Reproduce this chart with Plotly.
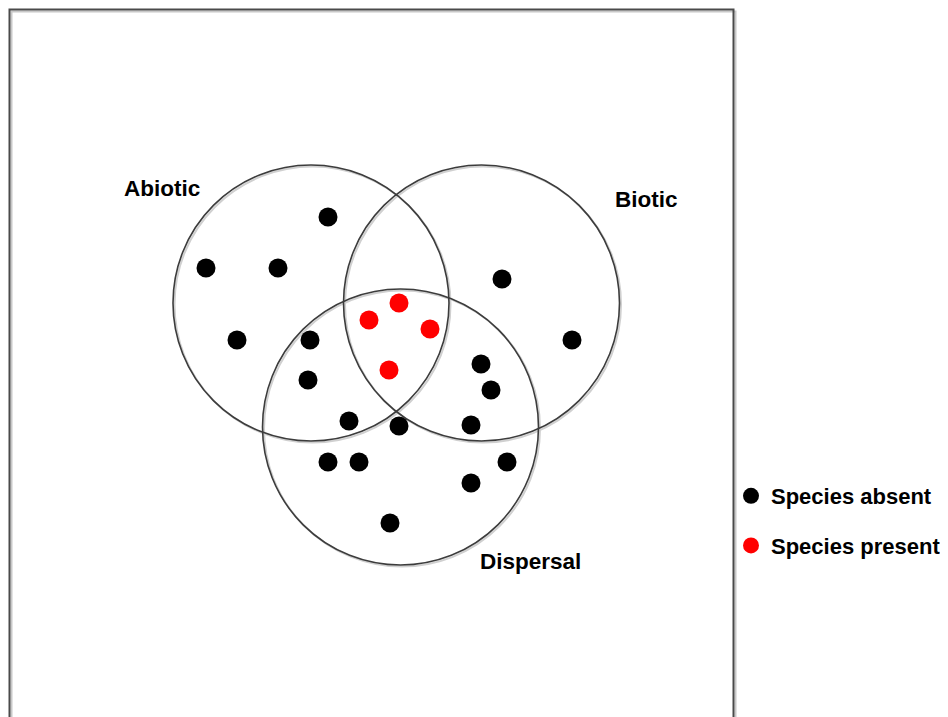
import plotly.graph_objects as go

# Venn sets (centre x, centre y, radius) in diagram units
set_names = ["Abiotic", "Biotic", "Dispersal"]
set_cx = [311, 481.5, 400.5]
set_cy = [303, 303, 427]
set_r = [138, 138, 138]
label_x = [161.5, 646.5, 530]
label_y = [188.5, 199, 561]

# species points
absent_x = [328, 206, 278, 237, 310, 308, 349, 399, 328, 359, 502, 572, 481, 491, 471, 507, 471, 390]
absent_y = [217, 268, 268, 340, 340, 380, 421, 426, 462, 462, 279, 340, 364, 390, 425, 462, 483, 523]
present_x = [399, 369, 430, 389]
present_y = [303, 320, 329, 370]

FONT = "Arial, Liberation Sans, sans-serif"
OFF = 8  # page body margin

fig = go.Figure()
fig.add_trace(go.Scatter(x=absent_x, y=absent_y, mode="markers", name="Species absent",
                         legendgroup="a",
                         marker=dict(color="black", size=19, line=dict(width=0))))
fig.add_trace(go.Scatter(x=present_x, y=present_y, mode="markers", name="Species present",
                         legendgroup="p",
                         marker=dict(color="#ff0000", size=19, line=dict(width=0))))

shapes = []
# outer frame with light shadow
shapes.append(dict(type="rect", xref="x", yref="y", x0=11.5, y0=11.5, x1=735.5, y1=760,
                   line=dict(color="#c8c8c8", width=2), layer="below"))
shapes.append(dict(type="rect", xref="x", yref="y", x0=9.5, y0=9.5, x1=733.5, y1=760,
                   line=dict(color="#4a4a4a", width=2), layer="below"))
for cx, cy, r in zip(set_cx, set_cy, set_r):
    shapes.append(dict(type="circle", xref="x", yref="y",
                       x0=cx - r + 1.5, x1=cx + r + 1.5, y0=cy - r + 1.5, y1=cy + r + 1.5,
                       line=dict(color="#d0d0d0", width=2), layer="below"))
for cx, cy, r in zip(set_cx, set_cy, set_r):
    shapes.append(dict(type="circle", xref="x", yref="y",
                       x0=cx - r, x1=cx + r, y0=cy - r, y1=cy + r,
                       line=dict(color="#3c3c3c", width=1.6), layer="below"))

annotations = [dict(x=x, y=y, xref="x", yref="y", text="<b>%s</b>" % n, showarrow=False,
                    font=dict(family=FONT, size=22.5, color="black"))
               for n, x, y in zip(set_names, label_x, label_y)]

fig.update_layout(
    width=948, height=717,
    margin=dict(l=0, r=0, t=0, b=0),
    paper_bgcolor="white", plot_bgcolor="white",
    xaxis=dict(range=[OFF, 948 + OFF], visible=False, fixedrange=True),
    yaxis=dict(range=[717 + OFF, OFF], visible=False, fixedrange=True),
    shapes=shapes, annotations=annotations,
    showlegend=True,
    legend=dict(x=723 / 948, y=1 - 467 / 717, xanchor="left", yanchor="top",
                font=dict(family=FONT, size=22, color="black"),
                tracegroupgap=18, bgcolor="rgba(0,0,0,0)", itemsizing="trace"),
)
fig.for_each_trace(lambda t: t.update(name="<b>%s</b>" % t.name))
fig.write_html("out.html")
